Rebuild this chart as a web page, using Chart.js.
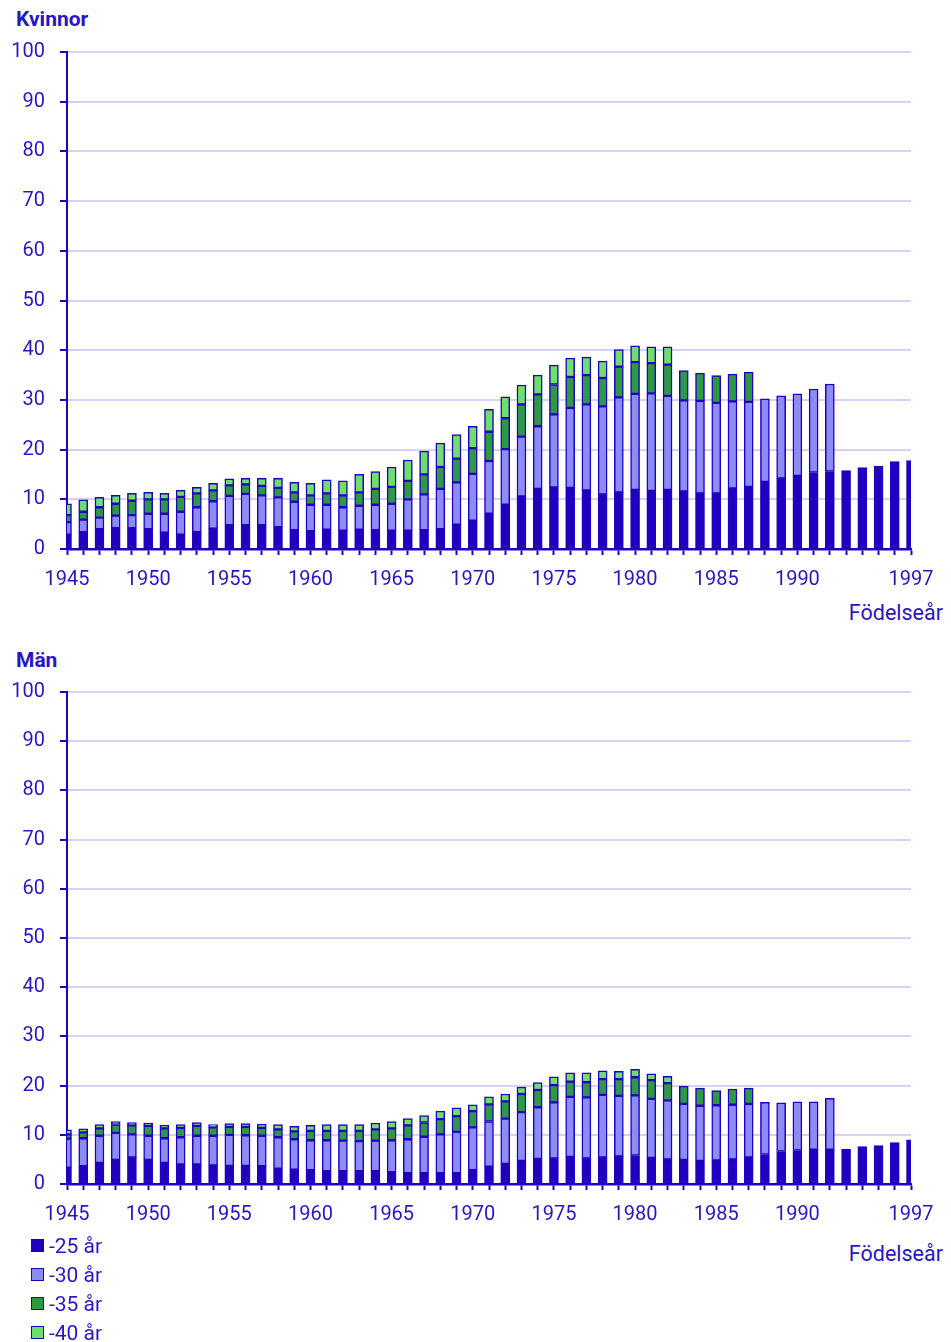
<!DOCTYPE html>
<html>
<head>
<meta charset="utf-8">
<script src="https://cdn.jsdelivr.net/npm/chart.js@4/dist/chart.umd.min.js"></script>
<style>
  body { margin: 0; background: #fff; width: 951px; height: 1342px; position: relative; overflow: hidden;
         font-family: Roboto, sans-serif; color: #2a16c0; }
  .title { position: absolute; left: 16px; font-weight: bold; font-size: 21px; }
  .xtitle { position: absolute; right: 8px; font-size: 21.5px; }
  .box { position: absolute; }
  canvas { position: absolute; left: 0; }
  #legend { position: absolute; left: 31px; top: 1231px; font-size: 21px; }
  #legend div { height: 29px; line-height: 26px; display: flex; align-items: center; }
  #legend span { display: inline-block; width: 11px; height: 11px; border: 1.5px solid #2000c0; margin-right: 5px; }
</style>
</head>
<body>
<div class="title" style="top:7px">Kvinnor</div>
<div class="title" style="top:648px">Män</div>
<div class="xtitle" style="top:600px">Födelseår</div>
<div class="xtitle" style="top:1241px">Födelseår</div>
<div class="box" style="top:2px;left:0;width:951px;height:600px"><canvas id="kvinnor" width="951" height="600"></canvas></div>
<div class="box" style="top:642px;left:0;width:951px;height:595px"><canvas id="man" width="951" height="595"></canvas></div>
<div id="legend"></div>
<script>
// birth years
const years = [1945, 1946, 1947, 1948, 1949, 1950, 1951, 1952, 1953, 1954,
  1955, 1956, 1957, 1958, 1959, 1960, 1961, 1962, 1963, 1964,
  1965, 1966, 1967, 1968, 1969, 1970, 1971, 1972, 1973, 1974,
  1975, 1976, 1977, 1978, 1979, 1980, 1981, 1982, 1983, 1984,
  1985, 1986, 1987, 1988, 1989, 1990, 1991, 1992, 1993, 1994,
  1995, 1996, 1997];
const yearLabels = [1945, 1950, 1955, 1960, 1965, 1970, 1975, 1980, 1985, 1990, 1997];
const seriesNames = ["-25 år", "-30 år", "-35 år", "-40 år"];
const colors = ["#2000c0", "#8c8cf5", "#2e9944", "#6ee06a"];

// Kvinnor, share per age band (stacked)
const kv25 = [2.9, 3.4, 4.0, 4.2, 4.2, 4.0, 3.3, 2.9, 3.4, 4.1,
  4.8, 4.8, 4.8, 4.4, 3.8, 3.6, 3.9, 3.7, 3.9, 3.8,
  3.7, 3.7, 3.8, 4.0, 4.9, 5.7, 7.1, 8.9, 10.6, 12.1,
  12.4, 12.3, 11.8, 11.0, 11.4, 11.9, 11.7, 11.9, 11.6, 11.2,
  11.2, 12.2, 12.5, 13.5, 14.2, 14.7, 15.4, 15.6, 15.8, 16.4,
  16.7, 17.6, 17.8];
const kv30 = [2.5, 2.5, 2.3, 2.5, 2.6, 3.1, 3.8, 4.6, 5.0, 5.5,
  5.9, 6.3, 6.0, 6.0, 5.7, 5.3, 5.0, 4.7, 4.8, 5.1,
  5.4, 6.3, 7.2, 8.1, 8.5, 9.4, 10.6, 11.2, 12.0, 12.6,
  14.7, 16.1, 17.3, 17.7, 19.1, 19.3, 19.6, 18.9, 18.3, 18.6,
  18.2, 17.5, 17.1, 16.7, 16.6, 16.5, 16.8, 17.6, null, null,
  null, null, null];
const kv35 = [1.4, 1.6, 2.1, 2.4, 2.9, 2.9, 2.9, 3.0, 2.8, 2.2,
  2.1, 1.9, 1.9, 1.9, 1.9, 1.9, 2.3, 2.4, 2.7, 3.2,
  3.4, 3.7, 4.0, 4.4, 4.8, 5.2, 5.9, 6.2, 6.5, 6.4,
  6.0, 6.2, 5.9, 5.7, 6.2, 6.4, 6.1, 6.3, 6.0, 5.6,
  5.5, 5.5, 6.0, null, null, null, null, null, null, null,
  null, null, null];
const kv40 = [2.3, 2.4, 2.0, 1.7, 1.5, 1.4, 1.2, 1.3, 1.2, 1.4,
  1.3, 1.2, 1.5, 1.9, 2.0, 2.4, 2.7, 2.9, 3.6, 3.5,
  4.0, 4.2, 4.7, 4.8, 4.8, 4.4, 4.5, 4.3, 3.9, 3.9,
  3.9, 3.8, 3.6, 3.4, 3.4, 3.3, 3.3, 3.6, null, null,
  null, null, null, null, null, null, null, null, null, null,
  null, null, null];

// Män
const man25 = [3.3, 3.6, 4.3, 4.9, 5.4, 4.9, 4.3, 4.0, 4.0, 3.8,
  3.7, 3.7, 3.6, 3.1, 2.9, 2.8, 2.6, 2.6, 2.6, 2.6,
  2.4, 2.2, 2.2, 2.2, 2.2, 2.8, 3.5, 4.1, 4.7, 5.1,
  5.2, 5.5, 5.2, 5.4, 5.6, 5.8, 5.3, 5.0, 4.9, 4.7,
  4.8, 5.0, 5.4, 6.0, 6.6, 6.8, 7.0, 7.0, 7.1, 7.6,
  7.8, 8.4, 9.0];
const man30 = [5.9, 5.7, 5.5, 5.5, 4.7, 4.9, 5.0, 5.5, 5.8, 6.0,
  6.3, 6.2, 6.2, 6.4, 6.2, 6.1, 6.3, 6.2, 6.1, 6.2,
  6.5, 6.9, 7.4, 7.9, 8.4, 8.7, 9.2, 9.2, 9.9, 10.5,
  11.4, 12.2, 12.4, 12.7, 12.3, 12.2, 12.0, 12.0, 11.4, 11.2,
  11.2, 11.1, 10.9, 10.6, 9.9, 9.9, 9.7, 10.4, null, null,
  null, null, null];
const man35 = [0.9, 1.2, 1.5, 1.7, 1.8, 2.0, 2.0, 1.9, 2.0, 1.7,
  1.6, 1.7, 1.6, 1.6, 1.6, 1.9, 1.9, 2.0, 2.1, 2.3,
  2.4, 2.8, 2.9, 3.1, 3.2, 3.3, 3.5, 3.5, 3.7, 3.5,
  3.5, 3.1, 3.1, 3.2, 3.4, 3.7, 3.8, 3.5, 3.6, 3.6,
  3.0, 3.2, 3.2, null, null, null, null, null, null, null,
  null, null, null];
const man40 = [0.9, 0.7, 0.8, 0.6, 0.6, 0.6, 0.7, 0.7, 0.7, 0.6,
  0.7, 0.7, 0.8, 1.0, 1.0, 1.1, 1.3, 1.3, 1.3, 1.3,
  1.4, 1.4, 1.4, 1.6, 1.7, 1.3, 1.5, 1.5, 1.4, 1.5,
  1.7, 1.8, 1.9, 1.7, 1.6, 1.6, 1.3, 1.4, null, null,
  null, null, null, null, null, null, null, null, null, null,
  null, null, null];

const textColor = "#2a16c0";
const axisColor = "#2000c0";
Chart.defaults.font.family = "Roboto, sans-serif";
Chart.defaults.font.size = 20;
Chart.defaults.color = textColor;

function makeChart(id, series) {
  new Chart(document.getElementById(id), {
    type: "bar",
    data: {
      labels: years,
      datasets: series.map((d, i) => ({
        label: seriesNames[i],
        data: d,
        backgroundColor: colors[i],
        borderColor: axisColor,
        borderWidth: 1.5,
        borderSkipped: false,
        barThickness: 9,
        clip: 0,
      })),
    },
    options: {
      responsive: false,
      animation: false,
      layout: { padding: { top: 50, right: 40, left: 0, bottom: 0 } },
      plugins: { legend: { display: false }, tooltip: { enabled: false } },
      scales: {
        x: {
          stacked: true,
          offset: false,
          afterFit: (s) => { s.height = 53; },
          border: { color: axisColor, width: 2.5 },
          grid: { drawOnChartArea: false, offset: false, tickLength: 6, tickColor: axisColor, tickWidth: 2 },
          ticks: {
            autoSkip: false,
            maxRotation: 0,
            padding: 13,
            callback: function (v) {
              const y = years[v];
              return yearLabels.includes(y) ? String(y) : "";
            },
          },
        },
        y: {
          stacked: true,
          min: 0,
          max: 100,
          afterFit: (s) => { s.width = 67; },
          border: { color: axisColor, width: 2 },
          grid: { color: "#d4d4f2", lineWidth: 2, tickLength: 7, tickColor: axisColor, tickWidth: 2 },
          ticks: { stepSize: 10, padding: 15 },
        },
      },
    },
  });
}

makeChart("kvinnor", [kv25, kv30, kv35, kv40]);
makeChart("man", [man25, man30, man35, man40]);

const legend = document.getElementById("legend");
seriesNames.forEach((n, i) => {
  const row = document.createElement("div");
  row.innerHTML = '<span style="background:' + colors[i] + '"></span>' + n;
  legend.appendChild(row);
});
</script>
</body>
</html>
